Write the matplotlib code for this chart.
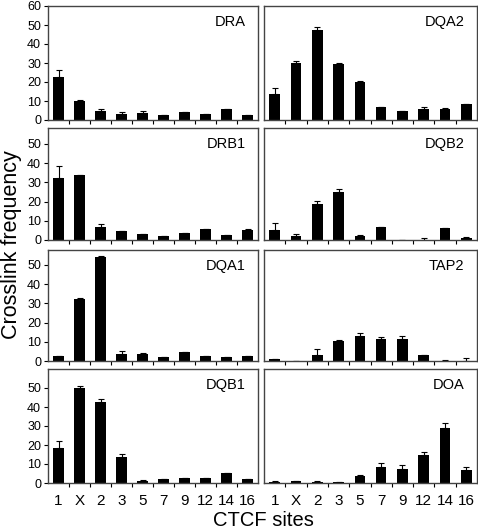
import matplotlib
import numpy as np

matplotlib.use("Agg")
import matplotlib.pyplot as plt  # noqa: E402

plt.rcParams["font.family"] = ["Liberation Sans", "DejaVu Sans"]

SITES = ["1", "X", "2", "3", "5", "7", "9", "12", "14", "16"]

# crosslink frequency (bar height) and upper error (above bar) per gene
DRA = [22.6, 9.8, 4.7, 3.2, 3.7, 2.5, 4.2, 3.0, 5.8, 2.4]
DRA_ERR = [3.5, 0.9, 1.1, 1.0, 0.9, 0, 0, 0, 0, 0]
DQA2 = [13.5, 29.8, 47.4, 29.6, 19.8, 6.7, 4.9, 5.8, 5.8, 8.6]
DQA2_ERR = [3.2, 1.2, 1.6, 0.4, 0.9, 0, 0, 0.9, 0.3, 0]
DRB1 = [32.4, 33.8, 6.8, 4.5, 3.0, 1.9, 3.8, 5.6, 2.8, 5.2]
DRB1_ERR = [6.3, 0, 1.4, 0, 0, 0, 0, 0, 0, 0.4]
DQB2 = [5.1, 2.3, 18.8, 25.1, 2.3, 6.8, 0.2, 0.1, 6.4, 1.0]
DQB2_ERR = [4.0, 0.8, 1.4, 1.2, 0.5, 0, 0, 0.8, 0, 0.4]
DQA1 = [2.8, 32.4, 54.2, 3.7, 3.7, 1.9, 4.5, 2.8, 2.3, 2.8]
DQA1_ERR = [0, 0.3, 0.3, 1.4, 0.3, 0, 0, 0, 0, 0]
TAP2 = [1.1, 0, 3.1, 10.5, 13.2, 11.3, 11.7, 3.3, 0.1, 0]
TAP2_ERR = [0, 0, 3.2, 0.3, 1.3, 1.1, 1.2, 0, 0.4, 1.7]
DQB1 = [18.4, 50.0, 42.6, 13.7, 1.2, 2.3, 2.8, 2.6, 5.3, 2.3]
DQB1_ERR = [3.9, 1.1, 1.4, 1.6, 0.4, 0, 0, 0, 0, 0]
DOA = [0.3, 0.9, 0.5, 0.35, 3.9, 8.4, 7.2, 14.7, 28.9, 6.7]
DOA_ERR = [0.7, 0, 0.7, 0, 0.3, 2.1, 2.3, 1.6, 2.7, 1.7]

PANELS = [
    [("DRA", DRA, DRA_ERR), ("DQA2", DQA2, DQA2_ERR)],
    [("DRB1", DRB1, DRB1_ERR), ("DQB2", DQB2, DQB2_ERR)],
    [("DQA1", DQA1, DQA1_ERR), ("TAP2", TAP2, TAP2_ERR)],
    [("DQB1", DQB1, DQB1_ERR), ("DOA", DOA, DOA_ERR)],
]

W, H = 478, 530
COLS = [(48, 210), (264, 213)]          # left px, width px
ROWS = [(6, 120), (128, 240), (250, 361), (369, 483)]  # top px, bottom px
YTOP = [60, 58.3, 57.8, 60]

fig = plt.figure(figsize=(W / 100, H / 100), dpi=100)
x = np.arange(len(SITES))
for r, row in enumerate(PANELS):
    top, bot = ROWS[r]
    for c, (name, vals, errs) in enumerate(row):
        left, width = COLS[c]
        ax = fig.add_axes([left / W, 1 - bot / H, width / W, (bot - top) / H])
        ax.bar(x, vals, 0.5, color="black",
               yerr=[np.zeros(len(errs)), errs], capsize=2,
               error_kw=dict(elinewidth=0.8, capthick=0.8, ecolor="black"))
        ax.set_xlim(-0.5, len(SITES) - 0.5)
        ax.set_ylim(0, YTOP[r])
        for s in ax.spines.values():
            s.set_color("#444444")
            s.set_linewidth(1.0)
        ax.text(0.94, 0.86, name, transform=ax.transAxes, ha="right", va="center",
                fontsize=10.5)
        ax.set_xticks(x)
        ax.set_xticks(x[:-1] + 0.5, minor=True)
        ax.tick_params(axis="x", which="major", length=0, labelsize=11, pad=8)
        ax.tick_params(axis="x", which="minor", length=3, width=0.8, direction="out")
        if r == 3:
            ax.set_xticklabels(SITES)
        else:
            ax.set_xticklabels([])
        if c == 0:
            ax.set_yticks([0, 10, 20, 30, 40, 50, 60] if r == 0 else [0, 10, 20, 30, 40, 50])
            ax.tick_params(axis="y", length=3, width=0.8, labelsize=9, pad=2)
        else:
            ax.set_yticks([])

fig.text(263 / W, 1 - 521 / H, "CTCF sites", ha="center", va="center", fontsize=14.5)
fig.text(0.5 / W, 1 - 245 / H, "Crosslink frequency", ha="left", va="center",
         rotation=90, fontsize=15.5)

fig.savefig("out.png", dpi=100)
